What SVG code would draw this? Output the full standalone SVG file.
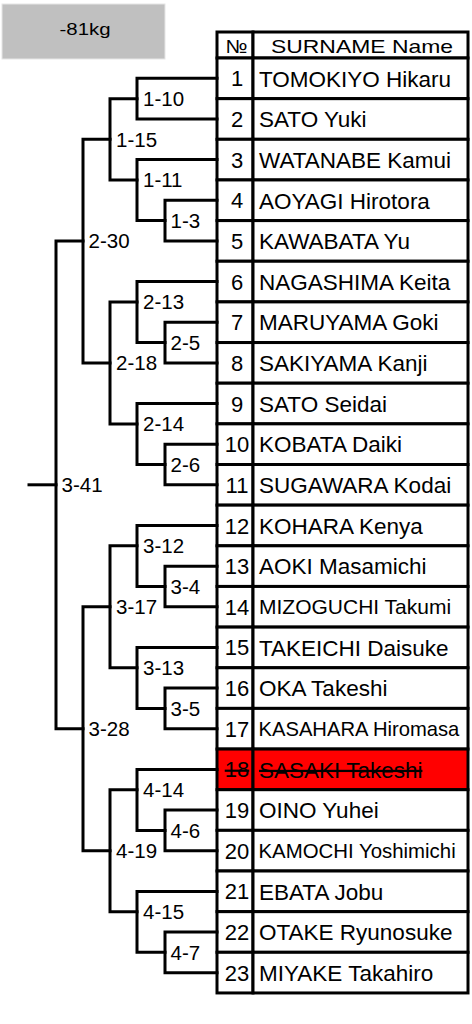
<svg xmlns="http://www.w3.org/2000/svg" width="472" height="1024" viewBox="0 0 472 1024">
<style>
  text { font-family: "Liberation Sans", Arial, sans-serif; fill: #000; }
  .cell { fill: #fff; stroke: #000; stroke-width: 3; }
  .hl { fill: #ff0000; stroke: #000; stroke-width: 3; }
  .num { font-size: 22px; text-anchor: middle; }
  .nm { font-size: 22.5px; }
  .lbl { font-size: 20.5px; }
  .hd { font-size: 19px; text-anchor: middle; }
  .br { fill: none; stroke: #000; stroke-width: 3; stroke-linejoin: miter; stroke-linecap: square; }
  .strike { text-decoration: line-through; }
</style>
<rect width="472" height="1024" fill="#fff"/>
<g id="title">
  <rect x="2" y="4" width="163" height="55" fill="#c0c0c0" stroke="#e6e6e6" stroke-width="1"/>
  <text x="85" y="35" style="font-size:17px" text-anchor="middle" textLength="51" lengthAdjust="spacingAndGlyphs">-81kg</text>
</g>
<g id="header">
  <rect class="cell" x="217" y="32" width="36" height="26"/>
  <rect class="cell" x="253" y="32" width="215" height="26"/>
  <text class="hd" x="236.5" y="52.5" textLength="22" lengthAdjust="spacingAndGlyphs">№</text>
  <text class="hd" x="362" y="52.5" textLength="182" lengthAdjust="spacingAndGlyphs">SURNAME Name</text>
</g>
<g id="row1"><rect class="cell" x="217" y="58" width="36" height="40.65"/><rect class="cell" x="253" y="58" width="215" height="40.65"/><text class="num" x="237" y="86.3">1</text><text class="nm" x="259" y="86.5">TOMOKIYO Hikaru</text></g>
<g id="row2"><rect class="cell" x="217" y="98.65" width="36" height="40.65"/><rect class="cell" x="253" y="98.65" width="215" height="40.65"/><text class="num" x="237" y="127">2</text><text class="nm" x="259" y="127.2">SATO Yuki</text></g>
<g id="row3"><rect class="cell" x="217" y="139.3" width="36" height="40.65"/><rect class="cell" x="253" y="139.3" width="215" height="40.65"/><text class="num" x="237" y="167.6">3</text><text class="nm" x="259" y="167.8">WATANABE Kamui</text></g>
<g id="row4"><rect class="cell" x="217" y="179.95" width="36" height="40.65"/><rect class="cell" x="253" y="179.95" width="215" height="40.65"/><text class="num" x="237" y="208.3">4</text><text class="nm" x="259" y="208.5">AOYAGI Hirotora</text></g>
<g id="row5"><rect class="cell" x="217" y="220.6" width="36" height="40.65"/><rect class="cell" x="253" y="220.6" width="215" height="40.65"/><text class="num" x="237" y="248.9">5</text><text class="nm" x="259" y="249.1">KAWABATA Yu</text></g>
<g id="row6"><rect class="cell" x="217" y="261.25" width="36" height="40.65"/><rect class="cell" x="253" y="261.25" width="215" height="40.65"/><text class="num" x="237" y="289.6">6</text><text class="nm" x="259" y="289.8">NAGASHIMA Keita</text></g>
<g id="row7"><rect class="cell" x="217" y="301.9" width="36" height="40.65"/><rect class="cell" x="253" y="301.9" width="215" height="40.65"/><text class="num" x="237" y="330.2">7</text><text class="nm" x="259" y="330.4">MARUYAMA Goki</text></g>
<g id="row8"><rect class="cell" x="217" y="342.55" width="36" height="40.65"/><rect class="cell" x="253" y="342.55" width="215" height="40.65"/><text class="num" x="237" y="370.9">8</text><text class="nm" x="259" y="371.1">SAKIYAMA Kanji</text></g>
<g id="row9"><rect class="cell" x="217" y="383.2" width="36" height="40.65"/><rect class="cell" x="253" y="383.2" width="215" height="40.65"/><text class="num" x="237" y="411.5">9</text><text class="nm" x="259" y="411.7">SATO Seidai</text></g>
<g id="row10"><rect class="cell" x="217" y="423.85" width="36" height="40.65"/><rect class="cell" x="253" y="423.85" width="215" height="40.65"/><text class="num" x="237" y="452.2">10</text><text class="nm" x="259" y="452.4">KOBATA Daiki</text></g>
<g id="row11"><rect class="cell" x="217" y="464.5" width="36" height="40.65"/><rect class="cell" x="253" y="464.5" width="215" height="40.65"/><text class="num" x="237" y="492.8">11</text><text class="nm" x="259" y="493">SUGAWARA Kodai</text></g>
<g id="row12"><rect class="cell" x="217" y="505.15" width="36" height="40.65"/><rect class="cell" x="253" y="505.15" width="215" height="40.65"/><text class="num" x="237" y="533.5">12</text><text class="nm" x="259" y="533.7">KOHARA Kenya</text></g>
<g id="row13"><rect class="cell" x="217" y="545.8" width="36" height="40.65"/><rect class="cell" x="253" y="545.8" width="215" height="40.65"/><text class="num" x="237" y="574.1">13</text><text class="nm" x="259" y="574.3">AOKI Masamichi</text></g>
<g id="row14"><rect class="cell" x="217" y="586.45" width="36" height="40.65"/><rect class="cell" x="253" y="586.45" width="215" height="40.65"/><text class="num" x="237" y="614.8">14</text><text class="nm" x="259" y="614.3" style="font-size:21px">MIZOGUCHI Takumi</text></g>
<g id="row15"><rect class="cell" x="217" y="627.1" width="36" height="40.65"/><rect class="cell" x="253" y="627.1" width="215" height="40.65"/><text class="num" x="237" y="655.4">15</text><text class="nm" x="259" y="655.6">TAKEICHI Daisuke</text></g>
<g id="row16"><rect class="cell" x="217" y="667.75" width="36" height="40.65"/><rect class="cell" x="253" y="667.75" width="215" height="40.65"/><text class="num" x="237" y="696.1">16</text><text class="nm" x="259" y="696.3">OKA Takeshi</text></g>
<g id="row17"><rect class="cell" x="217" y="708.4" width="36" height="40.65"/><rect class="cell" x="253" y="708.4" width="215" height="40.65"/><text class="num" x="237" y="736.7">17</text><text class="nm" x="258.5" y="735.6" style="font-size:20.2px">KASAHARA Hiromasa</text></g>
<g id="row18"><rect class="hl" x="217" y="749.05" width="36" height="40.65"/><rect class="hl" x="253" y="749.05" width="215" height="40.65"/><text class="num strike" x="237" y="777.4">18</text><text class="nm strike" x="259" y="777.6">SASAKI Takeshi</text></g>
<g id="row19"><rect class="cell" x="217" y="789.7" width="36" height="40.65"/><rect class="cell" x="253" y="789.7" width="215" height="40.65"/><text class="num" x="237" y="818">19</text><text class="nm" x="259" y="818.2">OINO Yuhei</text></g>
<g id="row20"><rect class="cell" x="217" y="830.35" width="36" height="40.65"/><rect class="cell" x="253" y="830.35" width="215" height="40.65"/><text class="num" x="237" y="858.7">20</text><text class="nm" x="258.5" y="858" style="font-size:20.4px">KAMOCHI Yoshimichi</text></g>
<g id="row21"><rect class="cell" x="217" y="871" width="36" height="40.65"/><rect class="cell" x="253" y="871" width="215" height="40.65"/><text class="num" x="237" y="899.3">21</text><text class="nm" x="259" y="899.5">EBATA Jobu</text></g>
<g id="row22"><rect class="cell" x="217" y="911.65" width="36" height="40.65"/><rect class="cell" x="253" y="911.65" width="215" height="40.65"/><text class="num" x="237" y="940">22</text><text class="nm" x="259" y="940.2">OTAKE Ryunosuke</text></g>
<g id="row23"><rect class="cell" x="217" y="952.3" width="36" height="40.65"/><rect class="cell" x="253" y="952.3" width="215" height="40.65"/><text class="num" x="237" y="980.6">23</text><text class="nm" x="259" y="980.8">MIYAKE Takahiro</text></g>
<g id="connectors">
  <path class="br" d="M217,78.3 H137 V119 H217"/>
  <path class="br" d="M217,200.3 H165 V240.9 H217"/>
  <path class="br" d="M217,159.6 H137 V220.6 H165"/>
  <path class="br" d="M137,98.7 H110 V180 H137"/>
  <path class="br" d="M217,322.2 H165 V362.9 H217"/>
  <path class="br" d="M217,281.6 H137 V342.6 H165"/>
  <path class="br" d="M217,444.2 H165 V484.8 H217"/>
  <path class="br" d="M217,403.5 H137 V464.5 H165"/>
  <path class="br" d="M137,301.9 H110 V423.9 H137"/>
  <path class="br" d="M110,139.3 H83 V362.9 H110"/>
  <path class="br" d="M217,566.2 H165 V606.8 H217"/>
  <path class="br" d="M217,525.5 H137 V586.5 H165"/>
  <path class="br" d="M217,688.1 H165 V728.8 H217"/>
  <path class="br" d="M217,647.5 H137 V708.4 H165"/>
  <path class="br" d="M137,545.8 H110 V667.8 H137"/>
  <path class="br" d="M217,810.1 H165 V850.7 H217"/>
  <path class="br" d="M217,769.4 H137 V830.4 H165"/>
  <path class="br" d="M217,932 H165 V972.7 H217"/>
  <path class="br" d="M217,891.4 H137 V952.3 H165"/>
  <path class="br" d="M137,789.7 H110 V911.7 H137"/>
  <path class="br" d="M110,606.8 H83 V850.7 H110"/>
  <path class="br" d="M83,240.9 H56 V728.8 H83"/>
  <path class="br" d="M29,484.8 H56"/>
  <g id="match-labels">
    <text class="lbl" x="143" y="106">1-10</text>
    <text class="lbl" x="170.5" y="227.9">1-3</text>
    <text class="lbl" x="143" y="187.3">1-11</text>
    <text class="lbl" x="116" y="146.6">1-15</text>
    <text class="lbl" x="170.5" y="349.9">2-5</text>
    <text class="lbl" x="143" y="309.2">2-13</text>
    <text class="lbl" x="170.5" y="471.8">2-6</text>
    <text class="lbl" x="143" y="431.2">2-14</text>
    <text class="lbl" x="116" y="370.2">2-18</text>
    <text class="lbl" x="88.5" y="248.2">2-30</text>
    <text class="lbl" x="170.5" y="593.8">3-4</text>
    <text class="lbl" x="143" y="553.1">3-12</text>
    <text class="lbl" x="170.5" y="715.7">3-5</text>
    <text class="lbl" x="143" y="675.1">3-13</text>
    <text class="lbl" x="116" y="614.1">3-17</text>
    <text class="lbl" x="88.5" y="736.1">3-28</text>
    <text class="lbl" x="61.5" y="492.1">3-41</text>
    <text class="lbl" x="170.5" y="837.7">4-6</text>
    <text class="lbl" x="143" y="797">4-14</text>
    <text class="lbl" x="170.5" y="959.6">4-7</text>
    <text class="lbl" x="143" y="919">4-15</text>
    <text class="lbl" x="116" y="858">4-19</text>
  </g>
</g>
</svg>
